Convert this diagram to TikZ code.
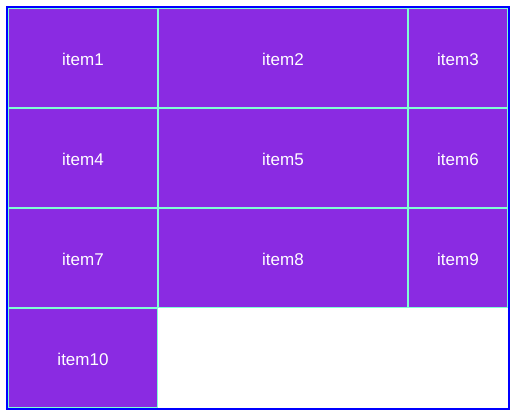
\documentclass[tikz,border=0pt]{standalone}
\usepackage{fontspec}
\setmainfont{Liberation Sans}
\definecolor{bviolet}{HTML}{8A2BE2}
\definecolor{aqua}{HTML}{7FFFD4}
\definecolor{bblue}{HTML}{0000FF}
\begin{document}
\begin{tikzpicture}[x=1pt,y=-1pt,
  cell/.style={draw=aqua,line width=1pt,fill=bviolet,text=white,inner sep=0pt,
    minimum height=99pt,font=\fontsize{17}{20}\selectfont},
  wa/.style={cell,minimum width=149pt},
  wb/.style={cell,minimum width=249pt},
  wc/.style={cell,minimum width=99pt},
  lbl/.style={text=white,inner sep=0pt,font=\fontsize{17}{20}\selectfont,yshift=-1.5pt}]
\useasboundingbox[fill=white] (0,0) rectangle (519,418);
\node[draw=bblue,line width=2pt,minimum width=502pt,minimum height=402pt,inner sep=0pt] (frame) at (258,208) {};
\node[wa] (i1) at (83,58) {};
\node[wb] (i2) at (283,58) {};
\node[wc] (i3) at (458,58) {};
\node[wa] (i4) at (83,158) {};
\node[wb] (i5) at (283,158) {};
\node[wc] (i6) at (458,158) {};
\node[wa] (i7) at (83,258) {};
\node[wb] (i8) at (283,258) {};
\node[wc] (i9) at (458,258) {};
\node[wa] (i10) at (83,358) {};
\node[lbl] (t1) at (i1.center) {item1};
\node[lbl] (t2) at (i2.center) {item2};
\node[lbl] (t3) at (i3.center) {item3};
\node[lbl] (t4) at (i4.center) {item4};
\node[lbl] (t5) at (i5.center) {item5};
\node[lbl] (t6) at (i6.center) {item6};
\node[lbl] (t7) at (i7.center) {item7};
\node[lbl] (t8) at (i8.center) {item8};
\node[lbl] (t9) at (i9.center) {item9};
\node[lbl] (t10) at (i10.center) {item10};
\end{tikzpicture}
\end{document}
